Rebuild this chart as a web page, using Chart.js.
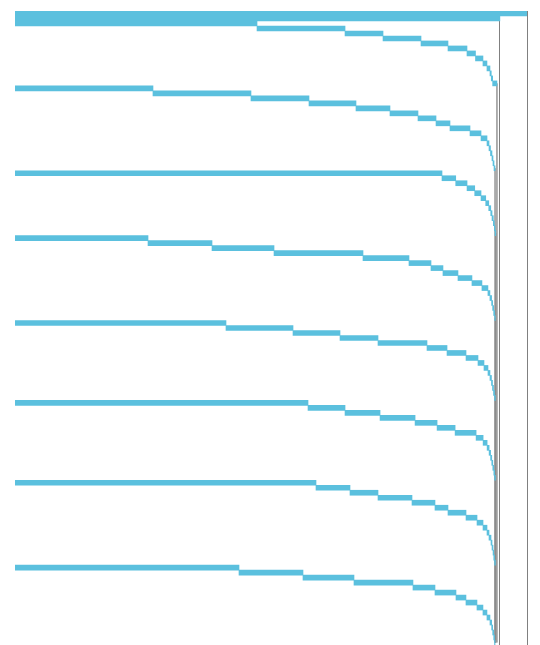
<!DOCTYPE html>
<html>
<head>
<meta charset="utf-8">
<script src="https://cdn.jsdelivr.net/npm/chart.js@4/dist/chart.umd.min.js"></script>
<style>
  html, body { margin: 0; padding: 0; background: #ffffff; overflow: hidden; }
  #c { display: block; }
</style>
</head>
<body>
<canvas id="c" width="540" height="645"></canvas>
<script>
// ---- data (share of total, %) ----
const TOTAL = 100;
const SUBTOTAL = 94.7;
const group1 = [47.27, 17.19, 7.42, 7.42, 5.27, 3.71, 1.66, 1.46, 0.78, 0.59, 0.25, 0.27, 0.84];
const group2 = [26.95, 19.14, 11.33, 9.18, 6.64, 5.47, 3.52, 2.73, 3.91, 2.15, 1.17, 0.39, 0.29, 0.29, 0.2, 0.2, 0.2];
const group3 = [83.40, 2.68, 2.21, 1.50, 1.23, 0.92, 0.59, 0.39, 0.25, 0.25, 0.2, 0.14, 0.14];
const group4 = [25.98, 12.5, 12.11, 17.38, 8.98, 4.30, 2.34, 2.93, 2.73, 1.95, 1.17, 0.39, 0.33, 0.2, 0.2, 0.2, 0.12];
const group5 = [41.21, 13.09, 9.18, 7.42, 9.57, 3.91, 3.71, 2.34, 1.17, 0.78, 0.39, 0.29, 0.2, 0.2, 0.2, 0.16];
const group6 = [57.23, 7.23, 6.84, 6.84, 4.30, 3.52, 4.10, 1.37, 0.78, 0.39, 0.29, 0.23, 0.2, 0.2, 0.16, 0.16];
const group7 = [58.79, 6.64, 5.47, 6.64, 4.49, 2.54, 3.52, 2.15, 1.17, 0.78, 0.39, 0.39, 0.2, 0.2, 0.14, 0.16, 0.16];
const group8 = [43.75, 12.5, 9.96, 11.52, 4.30, 4.10, 1.95, 2.15, 1.17, 0.78, 0.59, 0.33, 0.2, 0.2, 0.16, 0.1];
const groups = [group1, group2, group3, group4, group5, group6, group7, group8];

// ---- build rows ----
const labels = ['Total', 'Subtotal'];
const bars = [[0, TOTAL], [0, SUBTOTAL]];
const groupEnds = []; // {row, value}
groups.forEach((g, gi) => {
  let cum = 0;
  g.forEach((v, i) => {
    labels.push('G' + (gi + 1) + '-' + (i + 1));
    bars.push([cum, cum + v]);
    cum += v;
  });
  groupEnds.push({ row: labels.length - 1, value: cum });
});
const nRows = labels.length;

const trailSets = groupEnds.slice(0, groupEnds.length - 1).map(e => {
  const d = [];
  for (let r = 0; r < nRows; r++) d.push(r >= e.row ? e.value : null);
  return {
    type: 'line',
    indexAxis: 'y',
    data: d,
    borderColor: 'rgba(140,140,140,0.65)',
    borderWidth: 1,
    pointRadius: 0,
    spanGaps: false,
    order: 2
  };
});

new Chart(document.getElementById('c'), {
  type: 'bar',
  data: {
    labels: labels,
    datasets: [{
      type: 'bar',
      data: bars,
      backgroundColor: '#5bc0de',
      borderWidth: 0,
      barPercentage: 1,
      categoryPercentage: 1,
      order: 1
    }].concat(trailSets)
  },
  options: {
    indexAxis: 'y',
    responsive: false,
    devicePixelRatio: 1,
    animation: false,
    layout: { padding: { left: 15, right: 13, top: 11, bottom: 0 } },
    plugins: { legend: { display: false }, tooltip: { enabled: false } },
    scales: {
      x: {
        min: 0,
        max: TOTAL,
        afterBuildTicks: (axis) => { axis.ticks = [{ value: SUBTOTAL }, { value: TOTAL }]; },
        ticks: { display: false },
        grid: { display: true, color: '#808080', lineWidth: 1, drawTicks: false },
        border: { display: false }
      },
      y: {
        display: false,
        offset: true
      }
    }
  }
});
</script>
</body>
</html>
